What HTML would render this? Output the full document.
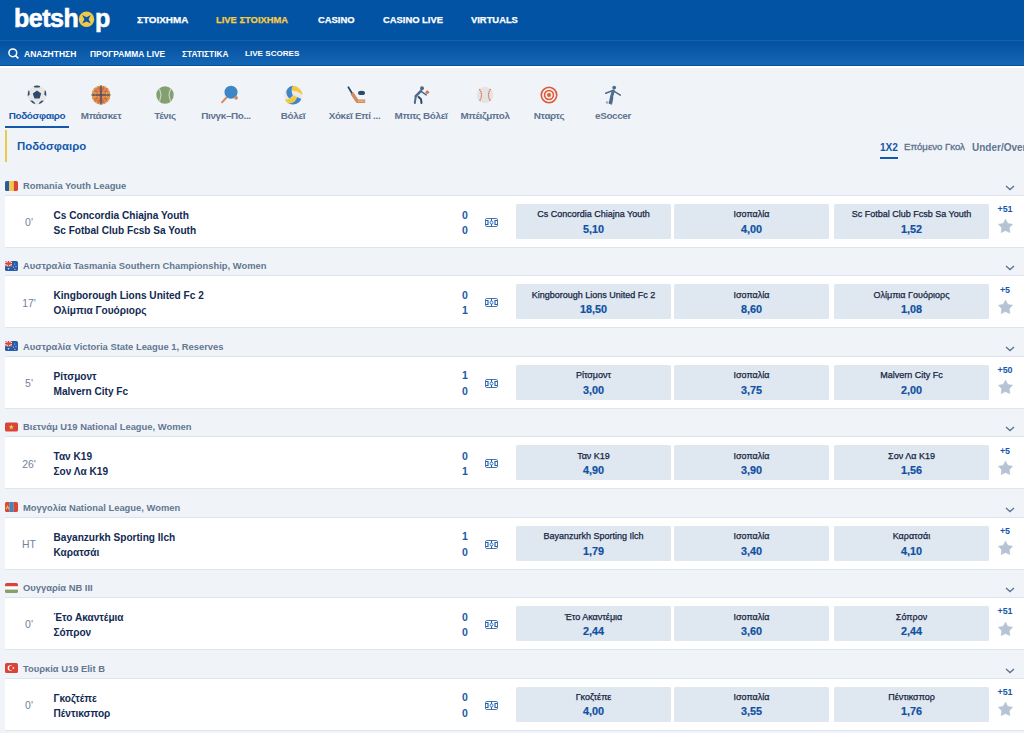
<!DOCTYPE html>
<html><head><meta charset="utf-8">
<style>
*{margin:0;padding:0;box-sizing:border-box}
html,body{width:1024px;height:733px;overflow:hidden;background:#f0f4f9;font-family:"Liberation Sans",sans-serif}
.abs{position:absolute}
#top{position:absolute;left:0;top:0;width:1024px;height:40px;background:#0353a4}
#topline{position:absolute;left:0;top:40px;width:1024px;height:1px;background:#1862ad}
#sub{position:absolute;left:0;top:41px;width:1024px;height:25px;background:linear-gradient(#0350a1,#1567b5)}
#subline{position:absolute;left:0;top:65px;width:1024px;height:1px;background:#0452a8}
#subwhite{position:absolute;left:0;top:66px;width:1024px;height:2px;background:#ffffff}
.nav{position:absolute;top:15px;font-size:9.4px;font-weight:bold;color:#fff;line-height:9.4px;white-space:nowrap;-webkit-text-stroke:0.25px currentColor}
.snav{position:absolute;top:49.5px;font-size:8.5px;font-weight:bold;color:#fff;line-height:8.5px;white-space:nowrap}
.tab{position:absolute;top:80px;width:64px;height:48px}
.tab .lbl{position:absolute;left:-10px;top:30.8px;width:84px;text-align:center;font-size:9.9px;letter-spacing:-0.35px;font-weight:bold;color:#5f7390;line-height:9.9px;white-space:nowrap}
.tab svg{position:absolute;left:22px;top:5px}
#tabul{position:absolute;left:5px;top:126px;width:64px;height:2px;background:#1358ab}
#ybar{position:absolute;left:5px;top:130px;width:2px;height:32px;background:#ecc94a}
#title{position:absolute;left:17px;top:140.8px;font-size:11.4px;line-height:11.4px;font-weight:bold;color:#1358ab}
.mk{position:absolute;top:142.6px;font-size:9.3px;line-height:9.3px;font-weight:bold;color:#62758f;white-space:nowrap}
#mkul{position:absolute;left:880px;top:157px;width:18px;height:2px;background:#1358ab}
.blk{position:absolute;left:0;width:1024px;height:81px}
.flag{position:absolute;left:5px;top:-14.5px;width:13px;height:10px;line-height:0}
.lg{position:absolute;left:23px;top:-14.3px;font-size:9.4px;line-height:9.4px;font-weight:bold;color:#637791;white-space:nowrap}
.chev{position:absolute;left:1005px;top:-10px}
.ln1{position:absolute;left:5px;top:0;width:1019px;height:1px;background:#dbe4ef}
.row{position:absolute;left:5px;top:1px;width:1019px;height:51px;background:#fff}
.ln2{position:absolute;left:5px;top:52px;width:1019px;height:1px;background:#dbe4ef}
.min{position:absolute;left:5px;top:23.1px;width:48px;text-align:center;font-size:10.4px;line-height:10.4px;color:#6f819a}
.tm{position:absolute;left:53.5px;font-size:10.1px;line-height:10.1px;font-weight:bold;color:#122a52;white-space:nowrap}
.t1{top:15.8px}.t2{top:30.9px}
.sc{position:absolute;left:455px;width:20px;text-align:center;font-size:10.5px;line-height:10.5px;font-weight:bold;color:#1a5aa8}
.s1{top:14.5px}.s2{top:29.8px}
.fld{position:absolute;left:485px;top:23px;line-height:0}
.btn{position:absolute;top:9px;width:155px;height:35px;background:#dfe7f1;border-radius:1.5px}
.b0{left:516px}.b1{left:674px}.b2{left:834px}
.bn{position:absolute;left:0;top:13.9px;width:155px;text-align:center;font-size:9px;line-height:9px;color:#15253f;white-space:nowrap;margin-top:-7.6px;-webkit-text-stroke:0.25px #15253f}
.bo{position:absolute;left:0;top:19.6px;width:155px;text-align:center;font-size:10.8px;line-height:10.8px;font-weight:bold;color:#0f51a2;-webkit-text-stroke:0.2px #0f51a2}
.more{position:absolute;left:994px;top:10.1px;width:22px;text-align:center;font-size:8.9px;line-height:8.9px;font-weight:bold;color:#1358ab}
.star{position:absolute;left:998.3px;top:24.3px;line-height:0}
</style></head><body>
<div id="top"></div><div id="topline"></div><div id="sub"></div><div id="subline"></div><div id="subwhite"></div>

<!-- logo -->
<div class="abs" style="left:14px;top:4px;font-size:25px;font-weight:bold;color:#fff;letter-spacing:-0.5px;line-height:28px;-webkit-text-stroke:0.6px #fff">betsh</div>
<div class="abs" style="left:95px;top:4px;font-size:25px;font-weight:bold;color:#fff;line-height:28px;-webkit-text-stroke:0.6px #fff">p</div>
<svg class="abs" style="left:78px;top:11px" width="17" height="17" viewBox="0 0 17 17"><circle cx="8.5" cy="8.3" r="7.7" fill="#efca4a"/><path d="M4.2 4L8.5 6.2L12.8 4L10.6 8.3L12.8 12.6L8.5 10.4L4.2 12.6L6.4 8.3Z" fill="#0a54a6"/></svg>
<div class="nav" style="left:137px;font-size:9.9px;line-height:9.9px;top:15.3px">ΣΤΟΙΧΗΜΑ</div>
<div class="nav" style="left:216px;color:#f7cb42">LIVE ΣΤΟΙΧΗΜΑ</div>
<div class="nav" style="left:318px">CASINO</div>
<div class="nav" style="left:383px">CASINO LIVE</div>
<div class="nav" style="left:471px">VIRTUALS</div>

<svg class="abs" style="left:7px;top:47px" width="13" height="13" viewBox="0 0 13 13"><circle cx="5.8" cy="5.8" r="3.9" fill="none" stroke="#fff" stroke-width="1.5"/><path d="M8.6 8.6L10.8 10.8" stroke="#fff" stroke-width="1.8" stroke-linecap="round"/></svg>
<div class="snav" style="left:24px">ΑΝΑΖΗΤΗΣΗ</div>
<div class="snav" style="left:90px;font-size:8.4px">ΠΡΟΓΡΑΜΜΑ LIVE</div>
<div class="snav" style="left:182px;font-size:8.3px">ΣΤΑΤΙΣΤΙΚΑ</div>
<div class="snav" style="left:245px;font-size:8.1px;top:49.8px">LIVE SCORES</div>

<!-- sport tabs -->
<div class="tab" style="left:5px"><svg width="20" height="20" viewBox="0 0 20 20"><circle cx="10" cy="10" r="9.4" fill="#e9e6e6"/><path d="M10 5.6L14.2 8.6L12.6 13.5H7.4L5.8 8.6Z" fill="#2d4a6d"/><path d="M6.8 1Q10 0.1 13.2 1L12.4 2.6H7.6Z" fill="#2d4a6d"/><path d="M1.6 5.3Q0.4 8 0.7 11.5L2.6 9.3L2.4 6Z" fill="#2d4a6d"/><path d="M18.4 5.3Q19.6 8 19.3 11.5L17.4 9.3L17.6 6Z" fill="#2d4a6d"/><path d="M3.2 15.8Q5.3 18.5 8.4 19.3L7.4 17.2L5.2 15.6Z" fill="#2d4a6d"/><path d="M16.8 15.8Q14.7 18.5 11.6 19.3L12.6 17.2L14.8 15.6Z" fill="#2d4a6d"/></svg><div class="lbl" style="color:#1358ab">Ποδόσφαιρο</div></div>
<div class="tab" style="left:69px"><svg width="20" height="20" viewBox="0 0 20 20"><circle cx="10" cy="10" r="9.4" fill="#d06d4b"/><g stroke="#e9c451" stroke-width="1.1" fill="none" stroke-dasharray="0.9 0.9"><path d="M2.5 5.5Q6.5 10 2.5 14.5M17.5 5.5Q13.5 10 17.5 14.5M5 2.2L8.6 8.6M15 2.2L11.4 8.6M5 17.8L8.6 11.4M15 17.8L11.4 11.4M1.8 8.2H8.5M11.5 8.2H18.2M1.8 11.8H8.5M11.5 11.8H18.2"/><circle cx="10" cy="10" r="8.6"/></g><path d="M10 0.6V19.4M0.6 10H19.4" stroke="#2d4a6d" stroke-width="1.1"/></svg><div class="lbl">Μπάσκετ</div></div>
<div class="tab" style="left:133px"><svg width="20" height="20" viewBox="0 0 20 20"><circle cx="10" cy="10" r="8.7" fill="#84a070"/><path d="M4.5 3.5Q7.5 10 4.5 16.5M15.5 3.5Q12.5 10 15.5 16.5" stroke="#dfe6d8" stroke-width="0.9" fill="none"/></svg><div class="lbl">Τένις</div></div>
<div class="tab" style="left:197px"><svg width="20" height="20" viewBox="0 0 20 20"><path d="M3 17.3L7.5 12.5" stroke="#d4895c" stroke-width="1.9" stroke-linecap="round"/><circle cx="12" cy="7.2" r="6.5" fill="#3d86c8"/><circle cx="17.1" cy="12.8" r="1.9" fill="#d4895c"/></svg><div class="lbl" style="left:-13px">Πινγκ–Πο...</div></div>
<div class="tab" style="left:261px"><svg width="20" height="20" viewBox="0 0 20 20"><circle cx="10.4" cy="10" r="9.4" fill="#ece8e6"/><path d="M10 0.7Q5 1.3 3.4 6.3Q2.9 10.5 6.6 13.7L9.8 10.6Q7.6 6 9.9 0.9Z" fill="#3d86c8"/><path d="M9.9 0.8Q15.8 0.8 19.5 8.3L19.2 9.4Q14 5.8 8.6 5.5Q8.6 3 9.9 0.8Z" fill="#f0c940"/><path d="M1.8 14.6Q7 14.6 10.4 10.2L14.2 11.9Q12.5 16 10.4 17.4Q8 18.6 5.2 18.4Q3 17 1.8 14.6Z" fill="#f0c940"/><path d="M14.2 11.9L18.3 13.9Q16.5 18.4 10.8 19.4Q7.6 19.4 5.4 18.5Q9.5 18.2 11.6 16.4Q13.4 14.4 14.2 11.9Z" fill="#3d86c8"/></svg><div class="lbl">Βόλεϊ</div></div>
<div class="tab" style="left:325px"><svg width="20" height="20" viewBox="0 0 20 20"><path d="M1.4 2.3L5 8.2" stroke="#2d4a6d" stroke-width="1.8" stroke-linecap="round"/><path d="M5 8.2L10.3 16.2H18.2" stroke="#d08a5b" stroke-width="3.4" fill="none" stroke-linejoin="round"/><path d="M10.8 16.2H17.6" stroke="#e7c29a" stroke-width="1"/><ellipse cx="14.5" cy="7.9" rx="3.5" ry="2.2" fill="#2d4a6d"/></svg><div class="lbl" style="left:-12.5px">Χόκεϊ Επί ...</div></div>
<div class="tab" style="left:389px"><svg width="20" height="20" viewBox="0 0 20 20"><circle cx="11" cy="3.3" r="2" fill="#4e6b8c"/><path d="M10 5.9L4.8 11.1" stroke="#4e6b8c" stroke-width="2.6" stroke-linecap="round"/><path d="M10 6.3L15.2 9.9" stroke="#4e6b8c" stroke-width="1.6" stroke-linecap="round"/><path d="M4.8 11.1L3.8 18" stroke="#4e6b8c" stroke-width="2" stroke-linecap="round"/><path d="M7.6 12L10 14.3L10.5 18" stroke="#2d4a6d" stroke-width="2" fill="none" stroke-linecap="round" stroke-linejoin="round"/><circle cx="16.3" cy="7.2" r="1.8" fill="#d9764e"/></svg><div class="lbl">Μπιτς Βόλεϊ</div></div>
<div class="tab" style="left:453px"><svg width="20" height="20" viewBox="0 0 20 20"><circle cx="10" cy="10" r="8.3" fill="#e6e3e3"/><path d="M4.4 4Q8.6 10 4.4 16.2M15.6 4Q11.4 10 15.6 16.2" stroke="#d8704c" stroke-width="1.2" fill="none" stroke-dasharray="1.6 0.6"/></svg><div class="lbl">Μπέιζμπολ</div></div>
<div class="tab" style="left:517px"><svg width="20" height="20" viewBox="0 0 20 20"><circle cx="10" cy="10" r="8" fill="#f3d9cc"/><circle cx="10" cy="10" r="7.7" fill="none" stroke="#d95a3c" stroke-width="1.7"/><circle cx="10" cy="10" r="4.4" fill="none" stroke="#d95a3c" stroke-width="1.5"/><circle cx="10" cy="10" r="4.4" fill="none" stroke="#d95a3c" stroke-width="1.5"/><circle cx="10" cy="10" r="1.9" fill="#d95a3c"/><circle cx="10" cy="10" r="6" fill="none" stroke="#f5ece8" stroke-width="1.4"/><circle cx="10" cy="10" r="3" fill="none" stroke="#f5ece8" stroke-width="1.2"/></svg><div class="lbl">Νταρτς</div></div>
<div class="tab" style="left:581px"><svg width="20" height="20" viewBox="0 0 20 20"><circle cx="11.2" cy="2.6" r="1.9" fill="#4e6b8c"/><path d="M2.7 8.2L10 5.6L17.3 10.1" stroke="#4e6b8c" stroke-width="1.6" fill="none" stroke-linecap="round" stroke-linejoin="round"/><path d="M10.3 6L8.3 12.6" stroke="#4e6b8c" stroke-width="3" stroke-linecap="round"/><path d="M8 12.4L6.6 18M9.4 12.8L8.2 18.8" stroke="#4e6b8c" stroke-width="1.9" stroke-linecap="round"/><circle cx="4.1" cy="17.5" r="1.3" fill="#9aabbd"/></svg><div class="lbl">eSoccer</div></div>
<div id="tabul"></div>

<div id="ybar"></div>
<div id="title">Ποδόσφαιρο</div>
<div class="mk" style="left:880px;color:#1358ab;font-size:10.1px;line-height:10.1px;top:142.5px">1X2</div>
<div class="mk" style="left:904px;font-size:9.6px;line-height:9.6px;top:142px;font-weight:normal;-webkit-text-stroke:0.35px #62758f">Επόμενο Γκολ</div>
<div class="mk" style="left:972px;font-size:10px;line-height:10px;top:142.7px">Under/Over</div>
<div id="mkul"></div>

<div class="blk" style="top:195.000px">
<div class="flag"><svg width="13" height="10" viewBox="0 0 13 10"><clipPath id="c0r"><rect width="13" height="10" rx="1.6"/></clipPath><g clip-path="url(#c0r)"><rect width="4.2" height="10" fill="#2b589e"/><rect x="4.1" width="4.9" height="10" fill="#ecc94b"/><rect x="8.9" width="4.1" height="10" fill="#db4535"/></g></svg></div>
<div class="lg">Romania Youth League</div>
<svg class="chev" width="10" height="6" viewBox="0 0 10 6"><path d="M1 1L5 4.6L9 1" fill="none" stroke="#5c7190" stroke-width="1.3"/></svg>
<div class="ln1"></div><div class="row"></div><div class="ln2"></div>
<div class="min">0'</div>
<div class="tm t1">Cs Concordia Chiajna Youth</div><div class="tm t2">Sc Fotbal Club Fcsb Sa Youth</div>
<div class="sc s1">0</div><div class="sc s2">0</div>
<div class="fld"><svg width="13" height="9" viewBox="0 0 13 9"><rect x="0.5" y="0.5" width="12" height="8" rx="1.3" fill="none" stroke="#4a74ad" stroke-width="1"/><path d="M6.5 0.5V8.5" stroke="#1f5fae" stroke-width="1.1"/><circle cx="6.5" cy="4.5" r="1.5" fill="#fff" stroke="#2a66b2" stroke-width="0.9"/><path d="M0.5 2.5H3V6.5H0.5M12.5 2.5H10V6.5H12.5" fill="none" stroke="#1f5fae" stroke-width="1.1"/></svg></div>
<div class="btn b0"><div class="bn">Cs Concordia Chiajna Youth</div><div class="bo">5,10</div></div>
<div class="btn b1"><div class="bn">Ισοπαλία</div><div class="bo">4,00</div></div>
<div class="btn b2"><div class="bn">Sc Fotbal Club Fcsb Sa Youth</div><div class="bo">1,52</div></div>
<div class="more">+51</div><div class="star"><svg width="15" height="14" viewBox="0 0 15 14"><path d="M7.50 0.20L9.79 4.44L14.54 5.31L11.21 8.81L11.85 13.59L7.50 11.50L3.15 13.59L3.79 8.81L0.46 5.31L5.21 4.44Z" fill="#b5c3d4" stroke="#b5c3d4" stroke-width="0.6" stroke-linejoin="round"/></svg></div>
</div>
<div class="blk" style="top:275.480px">
<div class="flag"><svg width="13" height="10" viewBox="0 0 13 10"><clipPath id="c1a"><rect width="13" height="10" rx="1.6"/></clipPath><g clip-path="url(#c1a)"><rect width="13" height="10" fill="#2a5ca6"/><rect width="7" height="5.2" fill="#f3eeee"/><path d="M0 0L7 5.2M7 0L0 5.2" stroke="#d9473b" stroke-width="1"/><path d="M3.5 0V5.2M0 2.6H7" stroke="#d9473b" stroke-width="1.3"/><circle cx="3.5" cy="7.8" r="0.8" fill="#e8eef6"/><circle cx="9.8" cy="3" r="0.5" fill="#cfe0f2"/><circle cx="11" cy="5.5" r="0.5" fill="#cfe0f2"/><circle cx="8.5" cy="6" r="0.6" fill="#cfe0f2"/><circle cx="10" cy="8.3" r="0.6" fill="#cfe0f2"/></g></svg></div>
<div class="lg">Αυστραλία Tasmania Southern Championship, Women</div>
<svg class="chev" width="10" height="6" viewBox="0 0 10 6"><path d="M1 1L5 4.6L9 1" fill="none" stroke="#5c7190" stroke-width="1.3"/></svg>
<div class="ln1"></div><div class="row"></div><div class="ln2"></div>
<div class="min">17'</div>
<div class="tm t1">Kingborough Lions United Fc 2</div><div class="tm t2">Ολίμπια Γουόριορς</div>
<div class="sc s1">0</div><div class="sc s2">1</div>
<div class="fld"><svg width="13" height="9" viewBox="0 0 13 9"><rect x="0.5" y="0.5" width="12" height="8" rx="1.3" fill="none" stroke="#4a74ad" stroke-width="1"/><path d="M6.5 0.5V8.5" stroke="#1f5fae" stroke-width="1.1"/><circle cx="6.5" cy="4.5" r="1.5" fill="#fff" stroke="#2a66b2" stroke-width="0.9"/><path d="M0.5 2.5H3V6.5H0.5M12.5 2.5H10V6.5H12.5" fill="none" stroke="#1f5fae" stroke-width="1.1"/></svg></div>
<div class="btn b0"><div class="bn">Kingborough Lions United Fc 2</div><div class="bo">18,50</div></div>
<div class="btn b1"><div class="bn">Ισοπαλία</div><div class="bo">8,60</div></div>
<div class="btn b2"><div class="bn">Ολίμπια Γουόριορς</div><div class="bo">1,08</div></div>
<div class="more">+5</div><div class="star"><svg width="15" height="14" viewBox="0 0 15 14"><path d="M7.50 0.20L9.79 4.44L14.54 5.31L11.21 8.81L11.85 13.59L7.50 11.50L3.15 13.59L3.79 8.81L0.46 5.31L5.21 4.44Z" fill="#b5c3d4" stroke="#b5c3d4" stroke-width="0.6" stroke-linejoin="round"/></svg></div>
</div>
<div class="blk" style="top:355.960px">
<div class="flag"><svg width="13" height="10" viewBox="0 0 13 10"><clipPath id="c2a"><rect width="13" height="10" rx="1.6"/></clipPath><g clip-path="url(#c2a)"><rect width="13" height="10" fill="#2a5ca6"/><rect width="7" height="5.2" fill="#f3eeee"/><path d="M0 0L7 5.2M7 0L0 5.2" stroke="#d9473b" stroke-width="1"/><path d="M3.5 0V5.2M0 2.6H7" stroke="#d9473b" stroke-width="1.3"/><circle cx="3.5" cy="7.8" r="0.8" fill="#e8eef6"/><circle cx="9.8" cy="3" r="0.5" fill="#cfe0f2"/><circle cx="11" cy="5.5" r="0.5" fill="#cfe0f2"/><circle cx="8.5" cy="6" r="0.6" fill="#cfe0f2"/><circle cx="10" cy="8.3" r="0.6" fill="#cfe0f2"/></g></svg></div>
<div class="lg">Αυστραλία Victoria State League 1, Reserves</div>
<svg class="chev" width="10" height="6" viewBox="0 0 10 6"><path d="M1 1L5 4.6L9 1" fill="none" stroke="#5c7190" stroke-width="1.3"/></svg>
<div class="ln1"></div><div class="row"></div><div class="ln2"></div>
<div class="min">5'</div>
<div class="tm t1">Ρίτσμοντ</div><div class="tm t2">Malvern City Fc</div>
<div class="sc s1">1</div><div class="sc s2">0</div>
<div class="fld"><svg width="13" height="9" viewBox="0 0 13 9"><rect x="0.5" y="0.5" width="12" height="8" rx="1.3" fill="none" stroke="#4a74ad" stroke-width="1"/><path d="M6.5 0.5V8.5" stroke="#1f5fae" stroke-width="1.1"/><circle cx="6.5" cy="4.5" r="1.5" fill="#fff" stroke="#2a66b2" stroke-width="0.9"/><path d="M0.5 2.5H3V6.5H0.5M12.5 2.5H10V6.5H12.5" fill="none" stroke="#1f5fae" stroke-width="1.1"/></svg></div>
<div class="btn b0"><div class="bn">Ρίτσμοντ</div><div class="bo">3,00</div></div>
<div class="btn b1"><div class="bn">Ισοπαλία</div><div class="bo">3,75</div></div>
<div class="btn b2"><div class="bn">Malvern City Fc</div><div class="bo">2,00</div></div>
<div class="more">+50</div><div class="star"><svg width="15" height="14" viewBox="0 0 15 14"><path d="M7.50 0.20L9.79 4.44L14.54 5.31L11.21 8.81L11.85 13.59L7.50 11.50L3.15 13.59L3.79 8.81L0.46 5.31L5.21 4.44Z" fill="#b5c3d4" stroke="#b5c3d4" stroke-width="0.6" stroke-linejoin="round"/></svg></div>
</div>
<div class="blk" style="top:436.440px">
<div class="flag"><svg width="13" height="10" viewBox="0 0 13 10"><rect y="0.5" width="13" height="9" rx="1.6" fill="#d9443a"/><path d="M6.3 2.4L7 4.3H8.9L7.4 5.5L7.9 7.4L6.3 6.2L4.7 7.4L5.2 5.5L3.7 4.3H5.6Z" fill="#ecd04a"/></svg></div>
<div class="lg">Βιετνάμ U19 National League, Women</div>
<svg class="chev" width="10" height="6" viewBox="0 0 10 6"><path d="M1 1L5 4.6L9 1" fill="none" stroke="#5c7190" stroke-width="1.3"/></svg>
<div class="ln1"></div><div class="row"></div><div class="ln2"></div>
<div class="min">26'</div>
<div class="tm t1">Ταν K19</div><div class="tm t2">Σον Λα K19</div>
<div class="sc s1">0</div><div class="sc s2">1</div>
<div class="fld"><svg width="13" height="9" viewBox="0 0 13 9"><rect x="0.5" y="0.5" width="12" height="8" rx="1.3" fill="none" stroke="#4a74ad" stroke-width="1"/><path d="M6.5 0.5V8.5" stroke="#1f5fae" stroke-width="1.1"/><circle cx="6.5" cy="4.5" r="1.5" fill="#fff" stroke="#2a66b2" stroke-width="0.9"/><path d="M0.5 2.5H3V6.5H0.5M12.5 2.5H10V6.5H12.5" fill="none" stroke="#1f5fae" stroke-width="1.1"/></svg></div>
<div class="btn b0"><div class="bn">Ταν K19</div><div class="bo">4,90</div></div>
<div class="btn b1"><div class="bn">Ισοπαλία</div><div class="bo">3,90</div></div>
<div class="btn b2"><div class="bn">Σον Λα K19</div><div class="bo">1,56</div></div>
<div class="more">+5</div><div class="star"><svg width="15" height="14" viewBox="0 0 15 14"><path d="M7.50 0.20L9.79 4.44L14.54 5.31L11.21 8.81L11.85 13.59L7.50 11.50L3.15 13.59L3.79 8.81L0.46 5.31L5.21 4.44Z" fill="#b5c3d4" stroke="#b5c3d4" stroke-width="0.6" stroke-linejoin="round"/></svg></div>
</div>
<div class="blk" style="top:516.920px">
<div class="flag"><svg width="13" height="10" viewBox="0 0 13 10"><clipPath id="c4m"><rect width="13" height="10" rx="1.6"/></clipPath><g clip-path="url(#c4m)"><rect width="4.5" height="10" fill="#db4535"/><rect x="4.4" width="4.3" height="10" fill="#3d86c8"/><rect x="8.6" width="4.4" height="10" fill="#db4535"/><circle cx="2.5" cy="4" r="0.8" fill="#ecd04a"/><path d="M1.3 7.3V5.6H3.7V7.3" stroke="#ecd04a" stroke-width="1" fill="none"/></g></svg></div>
<div class="lg">Μογγολία National League, Women</div>
<svg class="chev" width="10" height="6" viewBox="0 0 10 6"><path d="M1 1L5 4.6L9 1" fill="none" stroke="#5c7190" stroke-width="1.3"/></svg>
<div class="ln1"></div><div class="row"></div><div class="ln2"></div>
<div class="min">HT</div>
<div class="tm t1">Bayanzurkh Sporting Ilch</div><div class="tm t2">Καρατσάι</div>
<div class="sc s1">1</div><div class="sc s2">0</div>
<div class="fld"><svg width="13" height="9" viewBox="0 0 13 9"><rect x="0.5" y="0.5" width="12" height="8" rx="1.3" fill="none" stroke="#4a74ad" stroke-width="1"/><path d="M6.5 0.5V8.5" stroke="#1f5fae" stroke-width="1.1"/><circle cx="6.5" cy="4.5" r="1.5" fill="#fff" stroke="#2a66b2" stroke-width="0.9"/><path d="M0.5 2.5H3V6.5H0.5M12.5 2.5H10V6.5H12.5" fill="none" stroke="#1f5fae" stroke-width="1.1"/></svg></div>
<div class="btn b0"><div class="bn">Bayanzurkh Sporting Ilch</div><div class="bo">1,79</div></div>
<div class="btn b1"><div class="bn">Ισοπαλία</div><div class="bo">3,40</div></div>
<div class="btn b2"><div class="bn">Καρατσάι</div><div class="bo">4,10</div></div>
<div class="more">+5</div><div class="star"><svg width="15" height="14" viewBox="0 0 15 14"><path d="M7.50 0.20L9.79 4.44L14.54 5.31L11.21 8.81L11.85 13.59L7.50 11.50L3.15 13.59L3.79 8.81L0.46 5.31L5.21 4.44Z" fill="#b5c3d4" stroke="#b5c3d4" stroke-width="0.6" stroke-linejoin="round"/></svg></div>
</div>
<div class="blk" style="top:597.400px">
<div class="flag"><svg width="13" height="10" viewBox="0 0 13 10"><clipPath id="c5h"><rect width="13" height="10" rx="1.6"/></clipPath><g clip-path="url(#c5h)"><rect width="13" height="3.5" fill="#d9443a"/><rect y="3.4" width="13" height="3.3" fill="#fbfbfb"/><rect y="6.6" width="13" height="3.4" fill="#85a068"/></g></svg></div>
<div class="lg">Ουγγαρία NB III</div>
<svg class="chev" width="10" height="6" viewBox="0 0 10 6"><path d="M1 1L5 4.6L9 1" fill="none" stroke="#5c7190" stroke-width="1.3"/></svg>
<div class="ln1"></div><div class="row"></div><div class="ln2"></div>
<div class="min">0'</div>
<div class="tm t1">Έτο Ακαντέμια</div><div class="tm t2">Σόπρον</div>
<div class="sc s1">0</div><div class="sc s2">0</div>
<div class="fld"><svg width="13" height="9" viewBox="0 0 13 9"><rect x="0.5" y="0.5" width="12" height="8" rx="1.3" fill="none" stroke="#4a74ad" stroke-width="1"/><path d="M6.5 0.5V8.5" stroke="#1f5fae" stroke-width="1.1"/><circle cx="6.5" cy="4.5" r="1.5" fill="#fff" stroke="#2a66b2" stroke-width="0.9"/><path d="M0.5 2.5H3V6.5H0.5M12.5 2.5H10V6.5H12.5" fill="none" stroke="#1f5fae" stroke-width="1.1"/></svg></div>
<div class="btn b0"><div class="bn">Έτο Ακαντέμια</div><div class="bo">2,44</div></div>
<div class="btn b1"><div class="bn">Ισοπαλία</div><div class="bo">3,60</div></div>
<div class="btn b2"><div class="bn">Σόπρον</div><div class="bo">2,44</div></div>
<div class="more">+51</div><div class="star"><svg width="15" height="14" viewBox="0 0 15 14"><path d="M7.50 0.20L9.79 4.44L14.54 5.31L11.21 8.81L11.85 13.59L7.50 11.50L3.15 13.59L3.79 8.81L0.46 5.31L5.21 4.44Z" fill="#b5c3d4" stroke="#b5c3d4" stroke-width="0.6" stroke-linejoin="round"/></svg></div>
</div>
<div class="blk" style="top:677.880px">
<div class="flag"><svg width="13" height="10" viewBox="0 0 13 10"><rect width="13" height="10" rx="1.6" fill="#da4436"/><circle cx="5.3" cy="5" r="2.7" fill="#fff"/><circle cx="6.2" cy="5" r="2.2" fill="#da4436"/><circle cx="8.4" cy="5" r="0.9" fill="#f6e3df"/></svg></div>
<div class="lg">Τουρκία U19 Elit B</div>
<svg class="chev" width="10" height="6" viewBox="0 0 10 6"><path d="M1 1L5 4.6L9 1" fill="none" stroke="#5c7190" stroke-width="1.3"/></svg>
<div class="ln1"></div><div class="row"></div><div class="ln2"></div>
<div class="min">0'</div>
<div class="tm t1">Γκοζτέπε</div><div class="tm t2">Πέντικσπορ</div>
<div class="sc s1">0</div><div class="sc s2">0</div>
<div class="fld"><svg width="13" height="9" viewBox="0 0 13 9"><rect x="0.5" y="0.5" width="12" height="8" rx="1.3" fill="none" stroke="#4a74ad" stroke-width="1"/><path d="M6.5 0.5V8.5" stroke="#1f5fae" stroke-width="1.1"/><circle cx="6.5" cy="4.5" r="1.5" fill="#fff" stroke="#2a66b2" stroke-width="0.9"/><path d="M0.5 2.5H3V6.5H0.5M12.5 2.5H10V6.5H12.5" fill="none" stroke="#1f5fae" stroke-width="1.1"/></svg></div>
<div class="btn b0"><div class="bn">Γκοζτέπε</div><div class="bo">4,00</div></div>
<div class="btn b1"><div class="bn">Ισοπαλία</div><div class="bo">3,55</div></div>
<div class="btn b2"><div class="bn">Πέντικσπορ</div><div class="bo">1,76</div></div>
<div class="more">+51</div><div class="star"><svg width="15" height="14" viewBox="0 0 15 14"><path d="M7.50 0.20L9.79 4.44L14.54 5.31L11.21 8.81L11.85 13.59L7.50 11.50L3.15 13.59L3.79 8.81L0.46 5.31L5.21 4.44Z" fill="#b5c3d4" stroke="#b5c3d4" stroke-width="0.6" stroke-linejoin="round"/></svg></div>
</div>
</body></html>
